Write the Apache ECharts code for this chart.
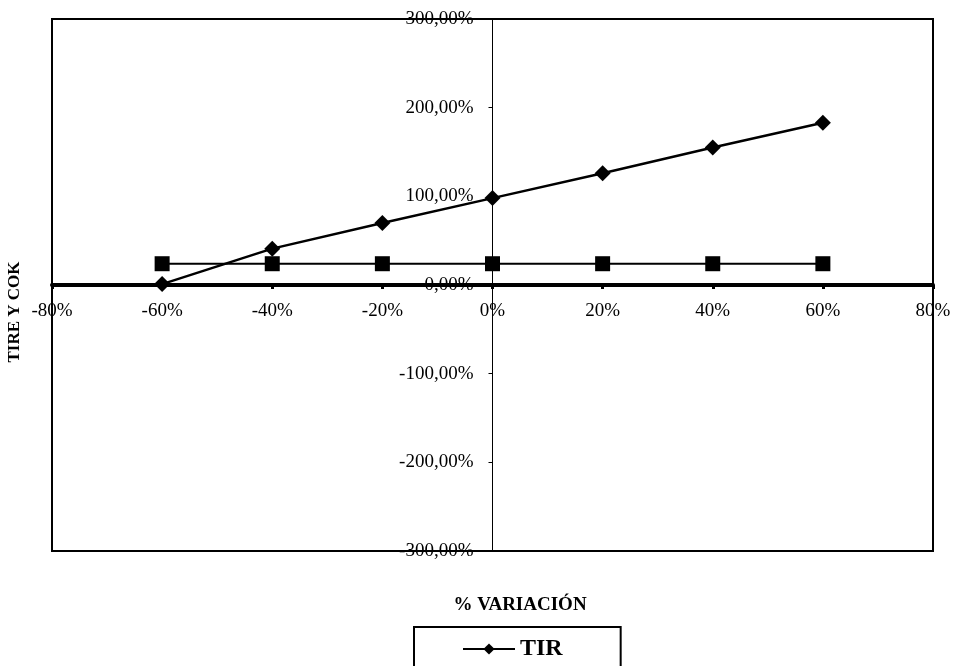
<!DOCTYPE html>
<html>
<head>
<meta charset="utf-8">
<title>TIR y COK - % Variación</title>
<script src="https://cdn.jsdelivr.net/npm/echarts@6/dist/echarts.min.js"></script>
<style>
  html, body { margin: 0; padding: 0; background: #fff; }
  #chart { width: 957px; height: 666px; }
</style>
</head>
<body>
<div id="chart"></div>
<script>
// Sensitivity of TIR against the COK for each % variation
const variacion = [-60, -40, -20, 0, 20, 40, 60];
const tir = [1, 41, 70, 98, 126, 155, 183];
const cok = [24, 24, 24, 24, 24, 24, 24];

const xTicks = { min: -80, max: 80, step: 20 };
const yTicks = { min: -300, max: 300, step: 100 };

const serif = '"Liberation Serif", "DejaVu Serif", serif';

// plot rectangle
const G = { left: 52, right: 24, top: 19, bottom: 115, w: 957, h: 666 };
const plotW = G.w - G.left - G.right;
const plotH = G.h - G.top - G.bottom;

function pairs(values) {
  return variacion.map((v, i) => [v, values[i]]);
}

const chart = echarts.init(document.getElementById('chart'), null, { renderer: 'canvas' });

chart.setOption({
  backgroundColor: '#ffffff',
  animation: false,
  grid: {
    left: G.left, right: G.right, top: G.top, bottom: G.bottom,
    show: true,
    borderColor: '#000',
    borderWidth: 2,
    backgroundColor: 'transparent'
  },
  // both axes cross at the origin, in the middle of the plot
  xAxis: {
    type: 'value',
    position: 'bottom',
    offset: -plotH * (0 - yTicks.min) / (yTicks.max - yTicks.min),
    min: xTicks.min, max: xTicks.max, interval: xTicks.step,
    axisLine: { onZero: false, lineStyle: { color: '#000', width: 4 } },
    axisTick: { show: true, inside: false, length: 4, lineStyle: { color: '#000', width: 3 } },
    axisLabel: {
      margin: 17,
      color: '#000',
      fontFamily: serif,
      fontSize: 19,
      formatter: v => v + '%'
    },
    splitLine: { show: false }
  },
  yAxis: {
    type: 'value',
    position: 'left',
    offset: -plotW * (0 - xTicks.min) / (xTicks.max - xTicks.min),
    min: yTicks.min, max: yTicks.max, interval: yTicks.step,
    axisLine: { onZero: false, lineStyle: { color: '#000', width: 1 } },
    axisTick: { show: true, length: 4, lineStyle: { color: '#000', width: 1 } },
    axisLabel: {
      margin: 19,
      color: '#000',
      fontFamily: serif,
      fontSize: 19,
      formatter: v => v.toFixed(2).replace('.', ',') + '%'
    },
    splitLine: { show: false }
  },
  legend: {
    orient: 'vertical',
    left: 414,
    top: 627,
    height: 120,
    padding: [10, 46, 10, 48],
    itemGap: 10,
    itemWidth: 52,
    itemHeight: 14,
    borderColor: '#000',
    borderWidth: 2,
    textStyle: { color: '#000', fontFamily: serif, fontSize: 24, fontWeight: 'bold' },
    data: ['TIR', 'COK']
  },
  graphic: [
    {
      type: 'text',
      x: 15, y: 312,
      rotation: Math.PI / 2,
      style: {
        text: 'TIRE Y COK',
        fill: '#000',
        font: 'bold 17px ' + serif,
        align: 'center',
        verticalAlign: 'middle'
      }
    },
    {
      type: 'text',
      x: 520, y: 605,
      style: {
        text: '% VARIACIÓN',
        fill: '#000',
        font: 'bold 19px ' + serif,
        align: 'center',
        verticalAlign: 'middle'
      }
    }
  ],
  series: [
    {
      name: 'TIR',
      type: 'line',
      data: pairs(tir),
      symbol: 'diamond',
      symbolSize: 16,
      itemStyle: { color: '#000' },
      lineStyle: { color: '#000', width: 2.5 },
      z: 3
    },
    {
      name: 'COK',
      type: 'line',
      data: pairs(cok),
      symbol: 'rect',
      symbolSize: 15,
      itemStyle: { color: '#000' },
      lineStyle: { color: '#000', width: 2 },
      z: 3
    }
  ]
});
</script>
</body>
</html>
